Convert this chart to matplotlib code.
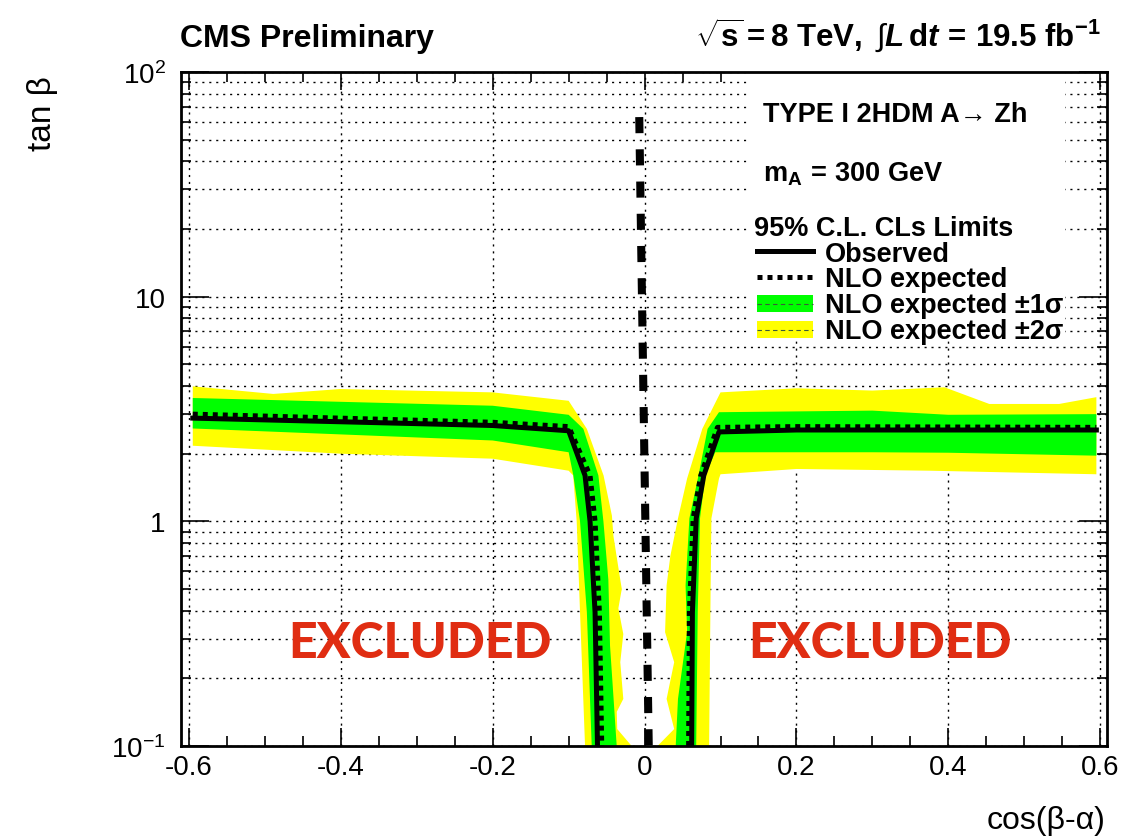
import matplotlib
matplotlib.use("Agg")
import matplotlib.pyplot as plt
from matplotlib.patches import Rectangle
from matplotlib.lines import Line2D
from matplotlib.ticker import FixedLocator, FixedFormatter, MultipleLocator, LogLocator, NullFormatter

plt.rcParams.update({
    "font.family": ["Liberation Sans", "DejaVu Sans"],
    "mathtext.fontset": "custom",
    "mathtext.rm": "Liberation Sans",
    "mathtext.bf": "Liberation Sans:bold",
    "mathtext.it": "Liberation Sans:italic",
    "mathtext.bfit": "Liberation Sans:italic:bold",
    "axes.unicode_minus": False,
})

# ---- data (cos(b-a), tan b) ----
# left branch: outer edge runs plateau -> bottom, inner edge likewise
l2s_out_x = [-0.595, -0.489, -0.401, -0.200, -0.100, -0.076, -0.054, -0.043, -0.041, -0.032,
             -0.030, -0.0345, -0.028, -0.032, -0.028, -0.0366, -0.036, -0.017]
l2s_out_y = [3.99, 3.69, 3.88, 3.75, 3.44, 2.58, 1.60, 1.06, 0.86, 0.55,
             0.50, 0.41, 0.315, 0.236, 0.162, 0.142, 0.119, 0.1]
l2s_in_x = [-0.595, -0.400, -0.200, -0.100, -0.094, -0.0894, -0.085, -0.0784]
l2s_in_y = [2.17, 2.00, 1.90, 1.68, 1.60, 1.0, 0.394, 0.1]

l1s_out_x = [-0.595, -0.200, -0.100, -0.0806, -0.0608, -0.0542, -0.0477, -0.0455, -0.0411, -0.0367]
l1s_out_y = [3.54, 3.27, 2.98, 2.58, 1.60, 1.0, 0.55, 0.28, 0.168, 0.1]
l1s_in_x = [-0.595, -0.200, -0.100, -0.0938, -0.085, -0.076, -0.0696]
l1s_in_y = [2.59, 2.29, 2.03, 1.60, 1.0, 0.394, 0.1]

l_obs_x = [-0.595, -0.200, -0.100, -0.0784, -0.0718, -0.0652, -0.062]
l_obs_y = [2.88, 2.67, 2.53, 1.60, 1.0, 0.394, 0.1]
l_exp_x = [-0.595, -0.200, -0.100, -0.0718, -0.0652, -0.0595, -0.0564]
l_exp_y = [3.00, 2.76, 2.64, 1.60, 1.0, 0.394, 0.1]

# right branch: edges run bottom -> plateau at +0.6
r2s_out_x = [0.017, 0.039, 0.029, 0.039, 0.027, 0.029, 0.034, 0.044, 0.056, 0.076, 0.100,
             0.200, 0.300, 0.395, 0.454, 0.546, 0.595]
r2s_out_y = [0.1, 0.119, 0.162, 0.236, 0.321, 0.518, 0.703, 1.03, 1.55, 2.58, 3.75,
             3.91, 3.82, 3.95, 3.33, 3.33, 3.57]
r2s_in_x = [0.085, 0.087, 0.088, 0.098, 0.100, 0.200, 0.376, 0.595]
r2s_in_y = [0.1, 0.52, 1.03, 1.55, 1.62, 1.71, 1.68, 1.62]

r1s_out_x = [0.041, 0.044, 0.056, 0.054, 0.059, 0.071, 0.083, 0.098, 0.300, 0.400, 0.595]
r1s_out_y = [0.1, 0.162, 0.321, 0.518, 1.03, 1.60, 2.58, 3.06, 3.11, 2.98, 3.00]
r1s_in_x = [0.068, 0.070, 0.073, 0.080, 0.093, 0.300, 0.400, 0.595]
r1s_in_y = [0.1, 0.394, 1.03, 1.60, 2.03, 2.03, 2.02, 1.96]

r_obs_x = [0.062, 0.063, 0.068, 0.078, 0.098, 0.200, 0.595]
r_obs_y = [0.1, 0.394, 1.03, 1.60, 2.50, 2.55, 2.55]
r_exp_x = [0.058, 0.059, 0.064, 0.074, 0.096, 0.200, 0.595]
r_exp_y = [0.1, 0.394, 1.03, 1.60, 2.62, 2.64, 2.62]

# thin contour near cos(b-a) = 0
c_x = [-0.007, 0.0055]
c_y = [63.0, 0.1]

xticks = [-0.6, -0.4, -0.2, 0.0, 0.2, 0.4, 0.6]
xlabels = ["-0.6", "-0.4", "-0.2", "0", "0.2", "0.4", "0.6"]
yticks = [0.1, 1, 10, 100]
ylabels = [r"$10^{\mathrm{-}1}$", "1", "10", r"$10^{2}$"]

GREEN, YELLOW, RED = "#00ff00", "#ffff00", "#e02d12"

W, H = 1139, 837
fig = plt.figure(figsize=(W / 100, H / 100), dpi=100)
fx = lambda px: px / W
fy = lambda py: 1 - py / H
ax = fig.add_axes([fx(181), fy(747), fx(1107) - fx(181), (747 - 73) / H])

ax.set_yscale("log")
ax.set_xlim(-0.6105, 0.609)
ax.set_ylim(0.1, 100)

def band(ox, oy, ix, iy, c):
    ax.fill(ox + ix[::-1], oy + iy[::-1], color=c, lw=0, zorder=2)

band(l2s_out_x, l2s_out_y, l2s_in_x, l2s_in_y, YELLOW)
band(r2s_out_x, r2s_out_y, r2s_in_x, r2s_in_y, YELLOW)
band(l1s_out_x, l1s_out_y, l1s_in_x, l1s_in_y, GREEN)
band(r1s_out_x, r1s_out_y, r1s_in_x, r1s_in_y, GREEN)

for xs, ys in [(l_obs_x, l_obs_y), (r_obs_x, r_obs_y)]:
    ax.plot(xs, ys, color="k", lw=3.6, zorder=3)
for xs, ys in [(l_exp_x, l_exp_y), (r_exp_x, r_exp_y)]:
    ax.plot(xs, ys, color="k", lw=3.6, dashes=(1, 1), zorder=4)
ax.plot(c_x, c_y, color="k", lw=5.8, dashes=(2, 2), zorder=4)

# white legend pad hides the grid
ax.add_patch(Rectangle((0.6145, 0.604), 0.340, 0.394, transform=ax.transAxes,
                       facecolor="white", edgecolor="none", zorder=1))

for xt in (-0.296, 0.31):
    ax.text(xt, 0.29, "EXCLUDED", color=RED, fontsize=36, fontweight="black",
            family=["Lato", "DejaVu Sans"], ha="center", va="center", zorder=5)

# axes, ticks, grid
ax.xaxis.set_major_locator(FixedLocator(xticks))
ax.xaxis.set_major_formatter(FixedFormatter(xlabels))
ax.xaxis.set_minor_locator(MultipleLocator(0.05))
ax.yaxis.set_major_locator(FixedLocator(yticks))
ax.yaxis.set_major_formatter(FixedFormatter(ylabels))
ax.yaxis.set_minor_locator(LogLocator(base=10, subs=range(2, 10)))
ax.yaxis.set_minor_formatter(NullFormatter())
ax.set_axisbelow(True)
grid_kw = dict(color="k", lw=1.0, dashes=(1.5, 3.5))
ax.grid(True, which="major", axis="x", **grid_kw)
ax.grid(True, which="both", axis="y", **grid_kw)
ax.tick_params(which="both", direction="in", top=True, right=True, width=1.2, labelsize=20)
ax.tick_params(axis="x", which="major", length=13, pad=6)
ax.tick_params(axis="y", which="major", length=20, pad=11)
ax.tick_params(which="minor", length=7)
for s in ax.spines.values():
    s.set_linewidth(2.0)

# titles
fig.text(fx(180), fy(47), "CMS Preliminary", fontsize=23, fontweight="bold", va="baseline")
fig.text(fx(1101), fy(47),
         r"$\mathbf{\sqrt{s}=8\ TeV,}\ \int\boldsymbol{L}\,\mathbf{d}\boldsymbol{t}\,\mathbf{=\,19.5\ fb^{-1}}$",
         fontsize=22.5, ha="right", va="baseline")
fig.text(fx(1105), fy(829), "cos(β-α)", fontsize=23, ha="right", va="baseline")
fig.text(fx(43), fy(76), "tan β", fontsize=24, rotation=90, ha="center", va="top")

# legend block
fig.text(fx(763), fy(122), "TYPE I 2HDM A→ Zh", fontsize=19.5, fontweight="bold", va="baseline")
fig.text(fx(763), fy(182), r"$\mathbf{m_{A}\,=\,300\ GeV}$", fontsize=19.5, va="baseline")
fig.text(fx(754), fy(236), "95% C.L. CLs Limits", fontsize=19.5, fontweight="bold", va="baseline")
entries = ["Observed", "NLO expected", "NLO expected ±1σ", "NLO expected ±2σ"]
bases = [262, 287, 313, 339]
for lab, b in zip(entries, bases):
    fig.text(fx(825), fy(b), lab, fontsize=19.5, fontweight="bold", va="baseline")
fig.add_artist(Line2D([fx(757), fx(813)], [fy(252), fy(252)], color="k", lw=3.6))
fig.add_artist(Line2D([fx(757), fx(813)], [fy(278), fy(278)], color="k", lw=3.6, dashes=(1, 1)))
for top, c in [(296, GREEN), (322, YELLOW)]:
    fig.add_artist(Rectangle((fx(757), fy(top + 17)), fx(813) - fx(757), 17 / H,
                             transform=fig.transFigure, facecolor=c, edgecolor="none"))
    fig.add_artist(Line2D([fx(757), fx(813)], [fy(top + 8.5), fy(top + 8.5)],
                          color="#3a5a3a", lw=0.8, dashes=(4, 3)))

fig.savefig("out.png", dpi=100)
